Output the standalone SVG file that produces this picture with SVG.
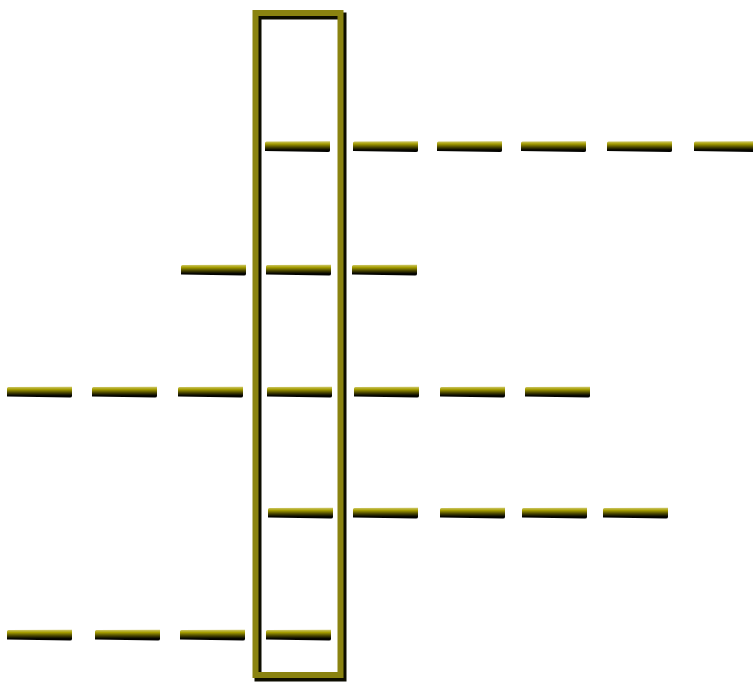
<svg xmlns="http://www.w3.org/2000/svg" xmlns:xlink="http://www.w3.org/1999/xlink" width="753" height="683" viewBox="0 0 753 683">
  <style>
    .frame-shadow { fill: none; stroke: #0d0d00; stroke-width: 7; }
    .frame { fill: none; stroke: #8a8310; stroke-width: 6; }
  </style>
  <defs>
    <linearGradient id="dashGrad" x1="0" y1="0" x2="0" y2="1">
      <stop offset="0" stop-color="#cfc96a"/>
      <stop offset="0.25" stop-color="#a39b00"/>
      <stop offset="0.55" stop-color="#4a4600"/>
      <stop offset="0.8" stop-color="#080800"/>
      <stop offset="1" stop-color="#000000"/>
    </linearGradient>
    <path id="dash" d="M1.5,-5 Q0,-5 0,-3.5 L0,4.5 L63,5.5 Q65,5.5 65,4 L65,-5.2 Z" fill="url(#dashGrad)"/>
  </defs>
  <rect width="753" height="683" fill="#ffffff"/>

  <g id="frame">
    <rect class="frame-shadow" x="258" y="16" width="85" height="662"/>
    <rect class="frame" x="255.5" y="13" width="85" height="662"/>
  </g>

  <g id="connectors">
    <g id="row1">
      <use xlink:href="#dash" x="265" y="146.5"/>
      <use xlink:href="#dash" x="353" y="146.5"/>
      <use xlink:href="#dash" x="437" y="146.5"/>
      <use xlink:href="#dash" x="521" y="146.5"/>
      <use xlink:href="#dash" x="607" y="146.5"/>
      <use xlink:href="#dash" x="694" y="146.5"/>
    </g>
    <g id="row2">
      <use xlink:href="#dash" x="181" y="270"/>
      <use xlink:href="#dash" x="266" y="270"/>
      <use xlink:href="#dash" x="352" y="270"/>
    </g>
    <g id="row3">
      <use xlink:href="#dash" x="7" y="392"/>
      <use xlink:href="#dash" x="92" y="392"/>
      <use xlink:href="#dash" x="178" y="392"/>
      <use xlink:href="#dash" x="267" y="392"/>
      <use xlink:href="#dash" x="354" y="392"/>
      <use xlink:href="#dash" x="440" y="392"/>
      <use xlink:href="#dash" x="525" y="392"/>
    </g>
    <g id="row4">
      <use xlink:href="#dash" x="268" y="513"/>
      <use xlink:href="#dash" x="353" y="513"/>
      <use xlink:href="#dash" x="440" y="513"/>
      <use xlink:href="#dash" x="522" y="513"/>
      <use xlink:href="#dash" x="603" y="513"/>
    </g>
    <g id="row5">
      <use xlink:href="#dash" x="7" y="635"/>
      <use xlink:href="#dash" x="95" y="635"/>
      <use xlink:href="#dash" x="180" y="635"/>
      <use xlink:href="#dash" x="266" y="635"/>
    </g>
  </g>
</svg>
